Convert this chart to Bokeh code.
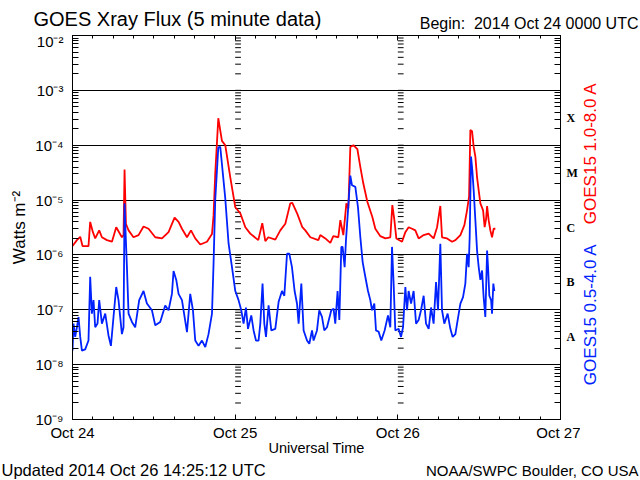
import math

from bokeh.core.properties import value
from bokeh.embed import file_html
from bokeh.layouts import column, row
from bokeh.models import CustomJSTickFormatter, FixedTicker, LinearAxis, LogAxis
from bokeh.plotting import figure
from bokeh.resources import INLINE

FONT = "Liberation Sans"
RED = "#ff0000"
BLUE = "#0022ff"

# hours since 2014 Oct 24 00:00 UTC, GOES15 long channel (1.0-8.0 A), W m^-2
long_hours = [0, 0.65, 1.14, 1.48, 2.36, 2.61, 3.01, 3.35, 3.94, 4.34,
              5.08, 5.82, 6.45, 7.29, 7.53, 7.68, 7.88, 8.27, 9.00, 9.74,
              10.48, 11.22, 12.21, 13.20, 14.17, 15.06, 15.65, 16.15, 16.89, 17.48,
              18.11, 18.85, 19.84, 20.58, 20.81, 21.06, 21.51, 22.05, 22.54, 23.28,
              24.02, 24.76, 25.50, 26.23, 27.41, 28.00, 28.45, 28.89, 29.92, 30.66,
              31.40, 32.13, 32.43, 33.17, 33.91, 34.35, 35.09, 36.27, 36.56, 37.30,
              38.04, 38.48, 39.22, 39.52, 39.96, 40.41, 40.70, 40.99, 41.44, 42.03,
              42.47, 42.91, 43.50, 44.24, 44.68, 45.42, 46.16, 46.89, 47.19, 47.49,
              47.78, 48.62, 49.11, 49.59, 50.10, 50.58, 51.07, 51.81, 52.55, 53.28,
              53.79, 54.27, 54.52, 55.26, 56.00, 56.49, 57.23, 57.82, 58.21, 58.51,
              58.70, 58.95, 59.19, 59.44, 59.69, 59.93, 60.18, 60.58, 60.81, 61.02,
              61.17, 61.40, 61.65, 61.90, 62.14, 62.39]
long_flux = [1.45e-6, 1.86e-6, 2.14e-6, 1.45e-6, 1.45e-6, 4.0e-6, 2.6e-6, 2.0e-6, 2.8e-6, 2.1e-6,
             1.86e-6, 1.74e-6, 3.2e-6, 2.1e-6, 2.3e-6, 3.6e-5, 3.7e-6, 2.8e-6, 2.1e-6, 2.3e-6,
             3.3e-6, 3.0e-6, 2.1e-6, 2.0e-6, 2.6e-6, 4.8e-6, 4.0e-6, 3.0e-6, 2.1e-6, 2.8e-6,
             2.0e-6, 1.55e-6, 1.74e-6, 2.4e-6, 5.2e-6, 3.0e-5, 3.1e-4, 1.2e-4, 1.0e-4, 2.6e-5,
             7.4e-6, 5.75e-6, 3.2e-6, 2.45e-6, 1.86e-6, 3.8e-6, 1.78e-6, 2.1e-6, 1.9e-6, 2.8e-6,
             3.7e-6, 8.7e-6, 8.9e-6, 5.6e-6, 3.2e-6, 2.8e-6, 2.1e-6, 1.86e-6, 2.3e-6, 2.0e-6,
             1.66e-6, 2.2e-6, 2.1e-6, 4.3e-6, 2.3e-6, 8.7e-6, 7.0e-6, 9.3e-5, 1.0e-4, 8.5e-5,
             4.0e-5, 2.0e-5, 9.3e-6, 4.9e-6, 3.0e-6, 2.2e-6, 2.0e-6, 2.1e-6, 8.1e-6, 4.3e-6,
             2.0e-6, 1.74e-6, 2.6e-6, 3.2e-6, 3.0e-6, 2.8e-6, 2.0e-6, 2.3e-6, 2.45e-6, 2.0e-6,
             3.2e-6, 7.8e-6, 2.1e-6, 2.0e-6, 1.74e-6, 1.86e-6, 2.3e-6, 3.5e-6, 6.5e-6, 1.15e-5,
             1.9e-4, 1.8e-4, 9.3e-5, 6.2e-5, 2.6e-5, 1.5e-5, 8.7e-6, 6.5e-6, 3.2e-6, 4.5e-6,
             7.8e-6, 4.3e-6, 2.8e-6, 2.1e-6, 3.0e-6, 3.0e-6]

# GOES15 short channel (0.5-4.0 A)
short_hours = [0, 0.15, 0.40, 0.65, 0.89, 1.14, 1.39, 1.87, 2.36, 2.61,
               2.86, 3.10, 3.35, 3.69, 3.94, 4.34, 4.83, 5.31, 5.67, 6.05,
               6.45, 6.79, 7.29, 7.53, 7.68, 7.82, 8.03, 8.27, 8.77, 9.25,
               9.84, 10.48, 10.98, 11.72, 12.21, 12.94, 13.68, 14.17, 14.67, 14.91,
               15.31, 15.65, 16.15, 16.89, 17.37, 17.77, 18.11, 18.60, 19.10, 19.59,
               20.07, 20.58, 20.81, 21.06, 21.51, 21.80, 22.54, 23.03, 23.53, 24.02,
               24.50, 24.90, 25.24, 25.59, 25.89, 26.38, 26.72, 27.07, 27.45, 27.71,
               28.04, 28.30, 28.55, 28.93, 29.33, 29.92, 30.41, 30.91, 31.25, 31.65,
               31.99, 32.38, 32.77, 33.12, 33.36, 33.76, 34.10, 34.60, 34.94, 35.34,
               35.57, 36.07, 36.41, 36.81, 37.15, 37.55, 38.18, 38.52, 38.77, 39.11,
               39.37, 39.66, 39.85, 40.15, 40.35, 40.65, 40.99, 41.24, 41.73, 42.12,
               42.47, 42.81, 43.20, 43.60, 43.94, 44.19, 44.53, 44.78, 45.16, 45.56,
               46.05, 46.55, 46.89, 47.14, 47.38, 47.63, 48.12, 48.47, 48.77, 49.11,
               49.36, 49.59, 49.95, 50.33, 50.69, 51.07, 51.42, 51.81, 52.16, 52.55,
               52.90, 53.28, 53.64, 53.93, 54.27, 54.52, 54.86, 55.35, 55.75, 56.09,
               56.49, 56.74, 57.23, 57.62, 57.96, 58.21, 58.45, 58.60, 58.80, 58.99,
               59.19, 59.44, 59.69, 59.93, 60.18, 60.43, 60.66, 60.91, 61.17, 61.31,
               61.50, 61.76, 61.90, 62.09, 62.24]
short_flux = [1.8e-8, 5.6e-8, 3.2e-8, 4.8e-8, 7.4e-8, 3.2e-8, 1.8e-8, 1.9e-8, 2.75e-8, 4.0e-7,
              8.5e-8, 1.5e-7, 4.8e-8, 5.6e-8, 1.5e-7, 5.6e-8, 8.5e-8, 3.4e-8, 2.2e-8, 7.4e-8,
              2.6e-7, 1.5e-7, 3.6e-8, 4.8e-8, 8.7e-6, 2.8e-6, 6.0e-7, 8.5e-8, 6.0e-8, 4.8e-8,
              1.5e-7, 2.2e-7, 1.3e-7, 9.8e-8, 5.2e-8, 6.0e-8, 1.2e-7, 9.8e-8, 1.95e-7, 5.1e-7,
              3.5e-7, 1.95e-7, 1.5e-7, 3.9e-8, 1.95e-7, 9.8e-8, 2.75e-8, 2.2e-8, 2.75e-8, 2.1e-8,
              3.6e-8, 8.5e-8, 6.9e-7, 1.0e-5, 9.1e-5, 9.3e-5, 1.07e-5, 1.6e-6, 6.0e-7, 2.2e-7,
              1.5e-7, 9.8e-8, 5.6e-8, 1.1e-7, 4.5e-8, 7.9e-8, 4.2e-8, 2.75e-8, 2.75e-8, 5.6e-8,
              3.0e-7, 5.6e-8, 3.2e-8, 1.2e-7, 4.2e-8, 4.5e-8, 1.4e-7, 2.2e-7, 1.8e-7, 1.05e-6,
              1.05e-6, 6.0e-7, 2.2e-7, 1.3e-7, 5.6e-8, 3.0e-7, 4.2e-8, 2.75e-8, 2.4e-8, 4.2e-8,
              2.75e-8, 4.2e-8, 9.8e-8, 7.4e-8, 4.2e-8, 4.8e-8, 9.8e-8, 1.05e-7, 5.6e-8, 2.2e-7,
              6.5e-8, 1.4e-6, 1.4e-6, 6.0e-7, 1.86e-6, 6.5e-6, 2.8e-5, 1.86e-5, 1.74e-5, 7.4e-6,
              2.1e-6, 7.4e-7, 4.0e-7, 2.2e-7, 1.5e-7, 9.8e-8, 1.3e-7, 4.2e-8, 4.0e-8, 2.75e-8,
              4.2e-8, 7.9e-8, 4.8e-8, 1.4e-6, 3.0e-7, 4.2e-8, 4.5e-8, 3.2e-8, 4.8e-8, 2.6e-7,
              9.8e-8, 2.2e-7, 1.3e-7, 2.2e-7, 5.6e-8, 6.5e-8, 9.8e-8, 1.8e-7, 5.6e-8, 4.5e-8,
              1.1e-7, 5.6e-8, 3.2e-7, 9.8e-8, 1.6e-6, 9.8e-8, 5.6e-8, 8.5e-8, 4.5e-8, 3.2e-8,
              3.6e-8, 5.6e-8, 1.3e-7, 1.7e-7, 3.0e-7, 1.05e-6, 6.0e-7, 2.1e-6, 6.2e-5, 3.5e-5,
              1.5e-5, 4.3e-6, 1.2e-6, 6.0e-7, 3.5e-7, 5.2e-7, 1.7e-7, 7.4e-8, 1.2e-6, 6.0e-7,
              1.8e-7, 1.5e-7, 8.5e-8, 3.0e-7, 2.2e-7]

day_ticks = [0, 24, 48, 72]
day_labels = ["Oct 24", "Oct 25", "Oct 26", "Oct 27"]
decades = [1e-9, 1e-8, 1e-7, 1e-6, 1e-5, 1e-4, 1e-3, 1e-2]
flare_classes = ["A", "B", "C", "M", "X"]
class_floor = [1e-8, 1e-7, 1e-6, 1e-5, 1e-4]

minor = [k * d for d in decades[:-1] for k in range(2, 10)]
y_ticker = FixedTicker(ticks=decades, minor_ticks=minor)
x_ticker = FixedTicker(ticks=day_ticks, minor_ticks=list(range(0, 73, 3)))
class_ticker = FixedTicker(ticks=[c * math.sqrt(10) for c in class_floor],
                           minor_ticks=decades + minor)

W, H = 640, 480
HEAD_H, FOOT_H, SIDE_W = 32, 21, 60
MAIN_H = H - HEAD_H - FOOT_H


def text_panel(width, height):
    f = figure(width=width, height=height, x_range=(0, width), y_range=(0, height),
               x_axis_location=None, y_axis_location=None, min_border=0,
               output_backend="svg", toolbar_location=None)
    f.grid.grid_line_color = None
    f.outline_line_color = None
    return f


def put(f, x, y, text, size, align="left", color="black", angle=0.0):
    f.text(x=[x], y=[y], text=[text], text_font=value(FONT), text_font_size=value(size),
           text_color=color, text_align=align, text_baseline="middle", angle=angle)


# main plot
p = figure(width=W - SIDE_W, height=MAIN_H, y_axis_type="log",
           x_range=(day_ticks[0], day_ticks[-1]), y_range=(decades[0], decades[-1]),
           output_backend="svg", toolbar_location=None,
           min_border_left=72, min_border_right=20, min_border_top=3, min_border_bottom=40)
p.outline_line_color = "black"
p.xgrid.grid_line_color = None
p.ygrid.grid_line_color = "black"
p.ygrid.grid_line_alpha = 1.0

sup_code = r"""
const sup = {"-": "\u207b", "0": "\u2070", "1": "\u00b9", "2": "\u00b2", "3": "\u00b3",
             "4": "\u2074", "5": "\u2075", "6": "\u2076", "7": "\u2077", "8": "\u2078", "9": "\u2079"};
const e = Math.round(Math.log10(tick));
return "10" + String(e).split("").map((c) => sup[c]).join("");
"""

yax = p.yaxis[0]
yax.ticker = y_ticker
yax.formatter = CustomJSTickFormatter(code=sup_code)
yax.major_tick_in = 0
yax.major_tick_out = 0
yax.minor_tick_in = 6
yax.minor_tick_out = 0
yax.major_label_standoff = 9
yax.major_label_text_font = FONT
yax.major_label_text_font_size = "15px"
yax.major_label_text_color = "black"
yax.axis_line_color = "black"
yax.axis_label = "Watts m\u207b\u00b2"
yax.axis_label_standoff = 3
yax.axis_label_text_font = FONT
yax.axis_label_text_font_size = "17px"
yax.axis_label_text_font_style = "normal"
yax.axis_label_text_color = "black"

xax = p.xaxis[0]
xax.ticker = x_ticker
xax.major_label_overrides = dict(zip(day_ticks, day_labels))
xax.major_tick_in = 5
xax.major_tick_out = 0
xax.minor_tick_in = 3
xax.minor_tick_out = 0
xax.major_label_standoff = 4
xax.major_label_text_font = FONT
xax.major_label_text_font_size = "15px"
xax.major_label_text_color = "black"
xax.axis_line_color = "black"
xax.axis_label = "Universal Time"
xax.axis_label_standoff = -4
xax.axis_label_text_font = FONT
xax.axis_label_text_font_size = "14.5px"
xax.axis_label_text_font_style = "normal"
xax.axis_label_text_color = "black"

top = LinearAxis(ticker=x_ticker, formatter=CustomJSTickFormatter(code="return ''"),
                 major_tick_in=5, major_tick_out=0, minor_tick_in=3, minor_tick_out=0,
                 major_label_standoff=0, major_label_text_font_size="0px",
                 axis_line_color="black")
p.add_layout(top, "above")

# right edge: minor ticks plus the flare class letters between decades
right = LogAxis(ticker=class_ticker,
                formatter=CustomJSTickFormatter(args=dict(labels=flare_classes),
                                                code="return labels[index]"),
                major_tick_in=0, major_tick_out=0, minor_tick_in=6, minor_tick_out=0,
                major_label_standoff=6, major_label_text_font="Liberation Serif",
                major_label_text_font_style="bold", major_label_text_font_size="12px",
                major_label_text_color="black", axis_line_color="black")
p.add_layout(right, "right")

# tick marks along the day boundaries
inner_days = day_ticks[1:-1]
tick_vals = decades + minor
seg_x = [d for d in inner_days for _ in tick_vals]
seg_y = [v for _ in inner_days for v in tick_vals]
p.segment(x0=seg_x, y0=seg_y, x1=[x + 0.85 for x in seg_x], y1=seg_y,
          line_color="black", line_width=1)

p.line(long_hours, long_flux, line_color=RED, line_width=1.8)
p.line(short_hours, short_flux, line_color=BLUE, line_width=1.8)

# header, footer and the channel names at the right (y measured up from each panel's bottom)
head = text_panel(W, HEAD_H)
put(head, 33, 14, "GOES Xray Flux (5 minute data)", "20px")
put(head, W - 2, 9.5, "Begin:\u00a0 2014 Oct 24 0000 UTC", "16px", align="right")

side = text_panel(SIDE_W, MAIN_H)
put(side, 10, 296, "GOES15 1.0-8.0 A", "17px", align="center", color=RED, angle=math.pi / 2)
put(side, 10, 117, "GOES15 0.5-4.0 A", "17px", align="center", color=BLUE, angle=math.pi / 2)

foot = text_panel(W, FOOT_H)
put(foot, 1, 10.5, "Updated 2014 Oct 26 14:25:12 UTC", "16.5px")
put(foot, W - 2, 10.5, "NOAA/SWPC Boulder, CO USA", "15px", align="right")

layout = column(head, row(p, side), foot)
open("out.html", "w").write(file_html(layout, INLINE))
